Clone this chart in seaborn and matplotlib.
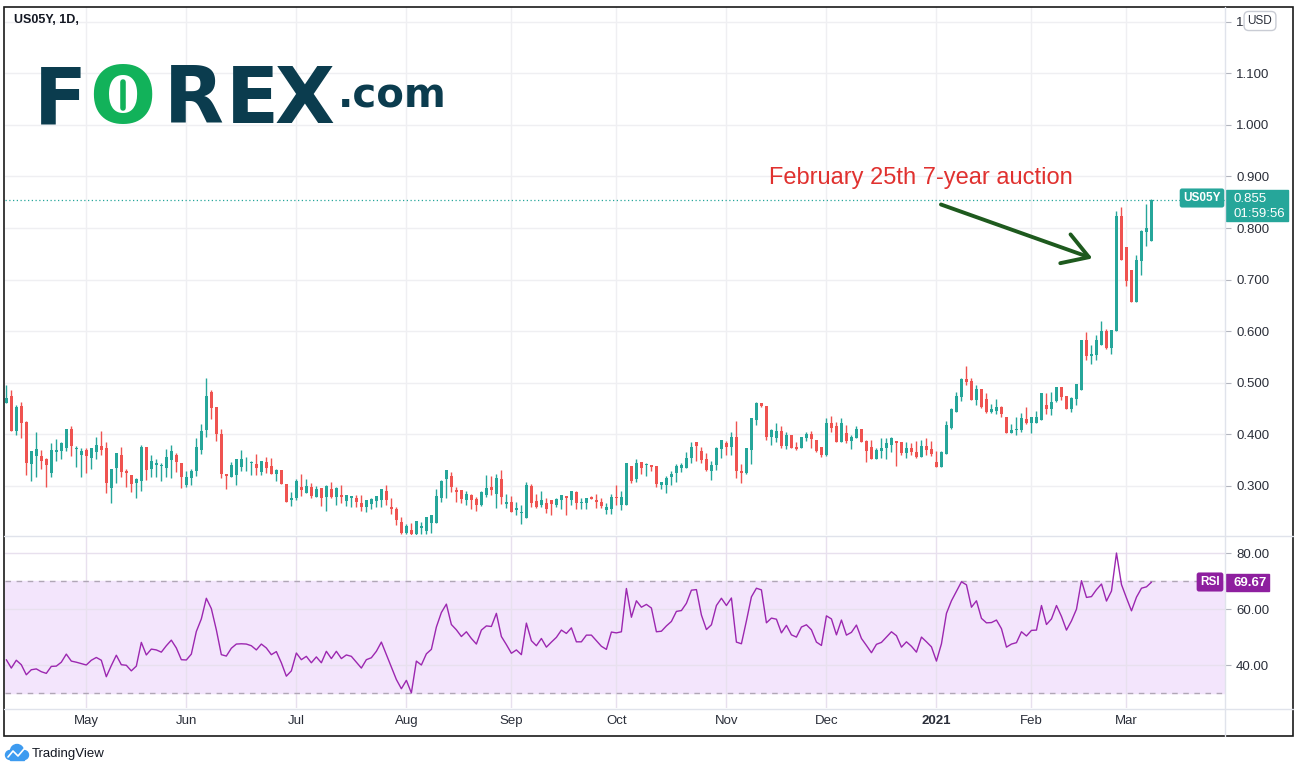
import matplotlib
matplotlib.use("Agg")
import matplotlib.pyplot as plt
import numpy as np
import pandas as pd
import seaborn as sns
from matplotlib.patches import Rectangle, Circle
from matplotlib.lines import Line2D
from matplotlib.transforms import Affine2D

sns.set_theme(style="white")
plt.rcParams["font.family"] = ["Liberation Sans", "DejaVu Sans"]

# -------------------------------------------------------
# Data: US05Y daily candles (Apr 2020 - Mar 8 2021) + RSI(14)
# -------------------------------------------------------

opens = [
    0.461, 0.474, 0.407, 0.454, 0.424, 0.342, 0.358, 0.357, 0.351, 0.325,
    0.366, 0.367, 0.373, 0.411, 0.371, 0.360, 0.369, 0.354, 0.366, 0.378,
    0.373, 0.296, 0.334, 0.359, 0.328, 0.320, 0.305, 0.309, 0.375, 0.332,
    0.340, 0.338, 0.334, 0.350, 0.359, 0.345, 0.301, 0.315, 0.328, 0.369,
    0.408, 0.481, 0.452, 0.400, 0.322, 0.317, 0.321, 0.336, 0.351, 0.344,
    0.342, 0.327, 0.347, 0.338, 0.323, 0.330, 0.303, 0.272, 0.277, 0.297,
    0.286, 0.297, 0.279, 0.295, 0.278, 0.293, 0.278, 0.283, 0.270, 0.276,
    0.276, 0.266, 0.259, 0.265, 0.270, 0.272, 0.289, 0.258, 0.254, 0.229,
    0.209, 0.215, 0.206, 0.219, 0.213, 0.227, 0.227, 0.276, 0.313, 0.318,
    0.291, 0.291, 0.272, 0.283, 0.274, 0.262, 0.283, 0.297, 0.285, 0.314,
    0.264, 0.268, 0.253, 0.247, 0.237, 0.299, 0.270, 0.262, 0.266, 0.272,
    0.262, 0.272, 0.281, 0.272, 0.287, 0.266, 0.266, 0.279, 0.272, 0.268,
    0.253, 0.255, 0.279, 0.263, 0.263, 0.338, 0.313, 0.347, 0.340, 0.341,
    0.338, 0.301, 0.301, 0.317, 0.325, 0.334, 0.334, 0.353, 0.384, 0.367,
    0.351, 0.329, 0.340, 0.371, 0.382, 0.376, 0.394, 0.328, 0.325, 0.369,
    0.427, 0.460, 0.455, 0.394, 0.392, 0.407, 0.378, 0.398, 0.376, 0.374,
    0.392, 0.400, 0.388, 0.376, 0.359, 0.421, 0.415, 0.384, 0.402, 0.386,
    0.392, 0.411, 0.386, 0.376, 0.351, 0.367, 0.373, 0.380, 0.386, 0.384,
    0.363, 0.374, 0.365, 0.355, 0.378, 0.371, 0.347, 0.336, 0.361, 0.413,
    0.443, 0.472, 0.507, 0.503, 0.466, 0.487, 0.468, 0.444, 0.446, 0.452,
    0.433, 0.403, 0.409, 0.409, 0.429, 0.422, 0.422, 0.428, 0.456, 0.448,
    0.464, 0.491, 0.475, 0.448, 0.468, 0.485, 0.582, 0.552, 0.553, 0.574,
    0.600, 0.567, 0.600, 0.823, 0.763, 0.718, 0.656, 0.736, 0.792, 0.775,
]

highs = [
    0.495, 0.485, 0.456, 0.462, 0.425, 0.367, 0.404, 0.369, 0.353, 0.382,
    0.390, 0.384, 0.411, 0.415, 0.378, 0.373, 0.373, 0.374, 0.394, 0.406,
    0.384, 0.333, 0.363, 0.375, 0.332, 0.320, 0.316, 0.380, 0.376, 0.359,
    0.351, 0.345, 0.371, 0.380, 0.363, 0.345, 0.328, 0.332, 0.392, 0.419,
    0.510, 0.485, 0.452, 0.411, 0.322, 0.347, 0.351, 0.369, 0.355, 0.348,
    0.361, 0.349, 0.355, 0.353, 0.332, 0.330, 0.304, 0.287, 0.314, 0.323,
    0.314, 0.305, 0.299, 0.295, 0.301, 0.307, 0.297, 0.301, 0.283, 0.281,
    0.283, 0.283, 0.272, 0.276, 0.281, 0.293, 0.301, 0.277, 0.258, 0.240,
    0.225, 0.227, 0.231, 0.229, 0.239, 0.244, 0.293, 0.312, 0.330, 0.326,
    0.297, 0.291, 0.289, 0.285, 0.279, 0.289, 0.320, 0.318, 0.322, 0.330,
    0.285, 0.281, 0.268, 0.262, 0.307, 0.303, 0.285, 0.289, 0.277, 0.272,
    0.277, 0.283, 0.281, 0.289, 0.289, 0.277, 0.277, 0.281, 0.285, 0.277,
    0.266, 0.285, 0.301, 0.289, 0.345, 0.338, 0.351, 0.347, 0.345, 0.341,
    0.338, 0.308, 0.318, 0.328, 0.343, 0.345, 0.365, 0.384, 0.384, 0.375,
    0.363, 0.349, 0.376, 0.388, 0.386, 0.404, 0.425, 0.343, 0.373, 0.431,
    0.462, 0.460, 0.455, 0.411, 0.421, 0.415, 0.404, 0.398, 0.384, 0.394,
    0.404, 0.407, 0.388, 0.376, 0.431, 0.435, 0.423, 0.431, 0.417, 0.398,
    0.415, 0.411, 0.388, 0.388, 0.373, 0.392, 0.392, 0.394, 0.386, 0.384,
    0.384, 0.382, 0.386, 0.388, 0.392, 0.386, 0.367, 0.367, 0.425, 0.450,
    0.481, 0.510, 0.532, 0.510, 0.495, 0.487, 0.479, 0.458, 0.468, 0.454,
    0.433, 0.419, 0.433, 0.442, 0.452, 0.433, 0.446, 0.479, 0.479, 0.481,
    0.491, 0.491, 0.475, 0.472, 0.497, 0.582, 0.598, 0.574, 0.592, 0.619,
    0.604, 0.602, 0.833, 0.841, 0.763, 0.718, 0.747, 0.796, 0.846, 0.857,
]

lows = [
    0.461, 0.407, 0.398, 0.392, 0.320, 0.309, 0.317, 0.332, 0.297, 0.317,
    0.349, 0.351, 0.367, 0.358, 0.336, 0.317, 0.325, 0.332, 0.352, 0.360,
    0.286, 0.266, 0.305, 0.317, 0.297, 0.288, 0.276, 0.290, 0.312, 0.317,
    0.317, 0.309, 0.317, 0.315, 0.327, 0.296, 0.297, 0.301, 0.318, 0.362,
    0.395, 0.429, 0.387, 0.315, 0.294, 0.317, 0.301, 0.329, 0.329, 0.321,
    0.321, 0.321, 0.325, 0.323, 0.309, 0.303, 0.268, 0.261, 0.272, 0.281,
    0.286, 0.276, 0.278, 0.260, 0.251, 0.276, 0.262, 0.266, 0.260, 0.259,
    0.259, 0.251, 0.249, 0.254, 0.259, 0.259, 0.262, 0.245, 0.224, 0.206,
    0.207, 0.204, 0.204, 0.206, 0.206, 0.208, 0.227, 0.268, 0.277, 0.287,
    0.268, 0.266, 0.262, 0.254, 0.251, 0.260, 0.278, 0.283, 0.256, 0.264,
    0.256, 0.250, 0.244, 0.225, 0.237, 0.259, 0.257, 0.259, 0.247, 0.244,
    0.259, 0.254, 0.244, 0.262, 0.254, 0.255, 0.254, 0.275, 0.256, 0.256,
    0.245, 0.245, 0.263, 0.253, 0.263, 0.305, 0.307, 0.323, 0.319, 0.329,
    0.297, 0.294, 0.286, 0.301, 0.307, 0.327, 0.334, 0.345, 0.348, 0.344,
    0.329, 0.311, 0.331, 0.354, 0.360, 0.360, 0.315, 0.305, 0.323, 0.342,
    0.417, 0.453, 0.388, 0.380, 0.384, 0.374, 0.371, 0.373, 0.369, 0.373,
    0.386, 0.374, 0.365, 0.355, 0.357, 0.404, 0.384, 0.384, 0.382, 0.371,
    0.392, 0.384, 0.347, 0.351, 0.351, 0.353, 0.351, 0.365, 0.338, 0.359,
    0.353, 0.359, 0.353, 0.355, 0.359, 0.357, 0.336, 0.336, 0.361, 0.411,
    0.443, 0.464, 0.496, 0.466, 0.456, 0.450, 0.442, 0.442, 0.440, 0.433,
    0.403, 0.403, 0.399, 0.405, 0.420, 0.403, 0.422, 0.428, 0.440, 0.437,
    0.462, 0.466, 0.448, 0.444, 0.456, 0.485, 0.543, 0.536, 0.543, 0.574,
    0.565, 0.556, 0.600, 0.738, 0.687, 0.656, 0.656, 0.708, 0.765, 0.775,
]

closes = [
    0.471, 0.407, 0.453, 0.422, 0.344, 0.367, 0.371, 0.349, 0.340, 0.369,
    0.369, 0.382, 0.411, 0.377, 0.373, 0.367, 0.358, 0.374, 0.380, 0.369,
    0.305, 0.333, 0.363, 0.327, 0.325, 0.303, 0.314, 0.375, 0.331, 0.349,
    0.345, 0.339, 0.355, 0.367, 0.347, 0.317, 0.317, 0.328, 0.375, 0.406,
    0.474, 0.451, 0.400, 0.323, 0.318, 0.340, 0.351, 0.351, 0.352, 0.347,
    0.334, 0.349, 0.334, 0.323, 0.330, 0.303, 0.268, 0.277, 0.309, 0.292,
    0.299, 0.281, 0.293, 0.277, 0.299, 0.279, 0.295, 0.278, 0.283, 0.281,
    0.268, 0.259, 0.272, 0.274, 0.281, 0.293, 0.272, 0.255, 0.233, 0.209,
    0.221, 0.206, 0.231, 0.221, 0.239, 0.244, 0.281, 0.310, 0.330, 0.297,
    0.287, 0.274, 0.285, 0.272, 0.262, 0.287, 0.295, 0.291, 0.316, 0.279,
    0.268, 0.250, 0.256, 0.248, 0.301, 0.266, 0.259, 0.272, 0.254, 0.265,
    0.274, 0.283, 0.277, 0.289, 0.266, 0.268, 0.277, 0.275, 0.268, 0.260,
    0.258, 0.279, 0.276, 0.279, 0.345, 0.309, 0.345, 0.334, 0.343, 0.336,
    0.303, 0.307, 0.316, 0.322, 0.338, 0.340, 0.353, 0.376, 0.377, 0.350,
    0.331, 0.340, 0.373, 0.388, 0.376, 0.394, 0.329, 0.325, 0.373, 0.431,
    0.460, 0.455, 0.394, 0.409, 0.407, 0.378, 0.398, 0.374, 0.371, 0.394,
    0.400, 0.390, 0.367, 0.359, 0.421, 0.413, 0.384, 0.421, 0.386, 0.394,
    0.411, 0.384, 0.367, 0.351, 0.369, 0.373, 0.382, 0.392, 0.382, 0.363,
    0.374, 0.365, 0.355, 0.378, 0.369, 0.361, 0.336, 0.365, 0.417, 0.449,
    0.475, 0.507, 0.501, 0.466, 0.487, 0.452, 0.444, 0.448, 0.452, 0.439,
    0.403, 0.409, 0.411, 0.431, 0.422, 0.433, 0.433, 0.479, 0.448, 0.462,
    0.491, 0.473, 0.448, 0.470, 0.497, 0.582, 0.551, 0.555, 0.582, 0.600,
    0.567, 0.602, 0.823, 0.738, 0.697, 0.656, 0.738, 0.794, 0.800, 0.855,
]

rsi_values = [
    41.9, 38.9, 41.7, 40.1, 36.5, 38.3, 38.6, 37.6, 37.0, 39.5,
    39.6, 41.0, 43.9, 41.4, 41.0, 40.5, 40.0, 41.7, 42.7, 41.7,
    35.8, 39.8, 43.5, 40.1, 39.9, 37.9, 39.6, 48.1, 43.6, 45.7,
    45.4, 44.6, 46.9, 48.9, 46.1, 41.9, 41.8, 43.9, 52.0, 56.5,
    63.9, 60.2, 52.6, 43.7, 43.2, 46.0, 47.5, 47.6, 47.5, 46.9,
    45.4, 47.5, 46.1, 43.7, 44.8, 40.8, 36.0, 37.9, 44.3, 41.9,
    43.1, 40.8, 42.9, 40.8, 44.9, 42.3, 44.9, 42.3, 43.6, 43.1,
    41.0, 38.9, 41.9, 42.6, 44.9, 48.2, 43.7, 39.2, 34.8, 31.5,
    34.5, 30.0, 41.4, 40.0, 44.0, 45.6, 53.6, 58.8, 61.8, 54.5,
    52.6, 50.2, 51.9, 49.5, 47.5, 52.5, 54.0, 53.8, 58.5, 50.2,
    47.3, 44.2, 45.4, 43.7, 55.0, 48.7, 46.9, 49.5, 46.4, 48.2,
    49.9, 52.5, 51.3, 53.3, 48.3, 48.3, 50.7, 50.7, 48.7, 46.7,
    45.6, 51.8, 51.5, 51.9, 67.4, 57.1, 63.0, 60.7, 61.7, 60.4,
    51.9, 52.1, 54.0, 55.6, 59.2, 59.5, 62.1, 66.8, 67.0, 57.9,
    52.7, 54.4, 61.3, 63.9, 61.3, 64.0, 48.2, 47.6, 55.8, 64.4,
    67.5, 66.9, 55.1, 56.8, 56.4, 51.5, 54.2, 50.8, 50.0, 53.6,
    54.4, 52.6, 48.2, 47.0, 57.6, 56.5, 50.8, 56.1, 50.7, 51.7,
    54.3, 49.5, 47.0, 44.4, 47.4, 48.1, 50.0, 51.9, 50.5, 46.4,
    48.3, 46.7, 44.6, 50.0, 48.3, 46.5, 41.4, 47.6, 58.5, 63.0,
    66.4, 69.8, 68.7, 60.7, 63.0, 56.7, 55.1, 55.2, 56.1, 53.0,
    46.4, 47.5, 48.0, 51.9, 50.4, 52.4, 52.5, 61.3, 54.5, 56.5,
    61.3, 57.4, 52.5, 55.8, 60.0, 70.2, 64.2, 64.5, 67.0, 69.0,
    62.9, 66.5, 80.1, 68.8, 64.0, 59.4, 64.3, 67.5, 68.0, 69.67,
]

month_labels = ["May", "Jun", "Jul", "Aug", "Sep", "Oct", "Nov", "Dec",
                "2021", "Feb", "Mar"]
month_bars = [16, 36, 58, 80, 101, 122, 144, 164, 186, 205, 224]
price_ticks = [0.3, 0.4, 0.5, 0.6, 0.7, 0.8, 0.9, 1.0, 1.1, 1.2]
# the top label is cut off by the currency box in the original
price_labels = ["0.300", "0.400", "0.500", "0.600", "0.700", "0.800",
                "0.900", "1.000", "1.100", "1."]
rsi_ticks = [40, 60, 80]
last_price = 0.855
last_rsi = 69.67
auction_bar = 222

GREEN = "#26a69a"
RED = "#ef5350"
PURPLE = "#9c27b0"
GRID = "#efeff2"
TEXT = "#2a2e39"
W, H = 1300, 773

fig = plt.figure(figsize=(13, 7.73), dpi=100)
fig.patch.set_facecolor("white")
# pixel coordinates, origin at top-left
pix = Affine2D().scale(1 / W, -1 / H).translate(0, 1) + fig.transFigure


def box(x0, y0, x1, y1):
    return [x0 / W, 1 - y1 / H, (x1 - x0) / W, (y1 - y0) / H]


ax = fig.add_axes(box(5, 7, 1225, 535))
ax2 = fig.add_axes(box(5, 536, 1225, 708), sharex=ax)

# =======================================================
# Candles
# =======================================================

o = np.array(opens)
h = np.array(highs)
l = np.array(lows)
c = np.array(closes)
x = np.arange(len(c))
colors = np.where(c >= o, GREEN, RED)

ax.vlines(x, l, h, colors=colors, linewidth=1.0, zorder=3)
ax.bar(x, np.maximum(np.abs(c - o), 0.0014), bottom=np.minimum(o, c),
       width=0.64, color=colors, linewidth=0, zorder=4)

ax.axhline(last_price, color=GREEN, linestyle=(0, (1, 2)), linewidth=0.9,
           zorder=2)

ax.set_xlim(-0.26, 243.7)
ax.set_ylim(0.2045, 1.2287)
ax.set_yticks(price_ticks)
ax.set_yticklabels(price_labels)
ax.set_xticks(month_bars)
ax.yaxis.tick_right()
ax.tick_params(axis="y", length=4, width=0.8, color="#b2b5be", pad=4,
               labelsize=9.5, labelcolor=TEXT)
ax.tick_params(axis="x", length=0, labelbottom=False)
ax.grid(True, color=GRID, linewidth=1)
ax.set_axisbelow(True)
for s in ax.spines.values():
    s.set_visible(False)

# annotation
ax.text(182.9, 0.8967, "February 25th 7-year auction", color="#e0312f",
        fontsize=17, ha="center", va="center",
        family=["Liberation Sans", "DejaVu Sans"])
ax.annotate("", xy=(auction_bar - 4.8, 0.741), xytext=(186.9, 0.8456),
            arrowprops=dict(arrowstyle="->,head_length=0.9,head_width=0.55",
                            color="#1e5a1e", lw=2.8, mutation_scale=20,
                            shrinkA=0, shrinkB=0))

# =======================================================
# RSI
# =======================================================

rsi_df = pd.DataFrame({"bar": x, "rsi": rsi_values})
ax2.axhspan(30, 70, color="#f3e5fc", zorder=0)
sns.lineplot(data=rsi_df, x="bar", y="rsi", ax=ax2, color=PURPLE,
             linewidth=1.0, zorder=4)
for lvl in (70, 30):
    ax2.axhline(lvl, color="#b0a6b6", linestyle=(0, (4, 4)), linewidth=1,
                zorder=3)

ax2.set_ylim(24.6, 86.2)
ax2.set_yticks(rsi_ticks)
ax2.set_yticklabels([f"{v:.2f}" for v in rsi_ticks])
ax2.yaxis.tick_right()
ax2.tick_params(axis="y", length=4, width=0.8, color="#b2b5be", pad=4,
                labelsize=9.5, labelcolor=TEXT)
ax2.set_xticks(month_bars)
ax2.set_xticklabels(month_labels)
ax2.tick_params(axis="x", length=0, pad=5, labelsize=9.5, labelcolor=TEXT)
for lab in ax2.get_xticklabels():
    if lab.get_text() == "2021":
        lab.set_fontweight("bold")
ax2.set_xlabel("")
ax2.set_ylabel("")
ax2.grid(True, color="#e8e0ee", linewidth=1)
ax2.set_axisbelow(True)
ax2.set_facecolor("none")
for s in ax2.spines.values():
    s.set_visible(False)

# =======================================================
# Frame, separators, tags, logos
# =======================================================

fig.add_artist(Rectangle((4, 7), 1289, 729, transform=pix, fill=False,
                         edgecolor="#1a1a1a", linewidth=1.2))
for (xs, ys) in [((1225, 1225), (7, 736)), ((4, 1293), (535.5, 535.5)),
                 ((4, 1293), (708.5, 708.5))]:
    fig.add_artist(Line2D(xs, ys, transform=pix, color="#e0e3eb",
                          linewidth=1))

# US05Y tags
fig.text(1202, 198, "US05Y", transform=pix, color="white", fontsize=8.5,
         fontweight="bold", ha="center", va="center",
         bbox=dict(boxstyle="round,pad=0.3,rounding_size=0.2", fc=GREEN,
                   ec="none"))
fig.add_artist(Rectangle((1226, 190), 62, 31, transform=pix, color=GREEN))
fig.text(1233, 199, f"{last_price:.3f}", transform=pix, color="white",
         fontsize=9.5, ha="left", va="center")
fig.text(1233, 214, "01:59:56", transform=pix, color="white",
         fontsize=9.5, ha="left", va="center")

# RSI tags
fig.text(1210, 582, "RSI", transform=pix, color="white", fontsize=8.5,
         fontweight="bold", ha="center", va="center",
         bbox=dict(boxstyle="round,pad=0.3,rounding_size=0.2", fc="#8e1f9f",
                   ec="none"))
fig.add_artist(Rectangle((1226, 574), 43, 17, transform=pix, color="#8e1f9f"))
fig.text(1233, 582.5, f"{last_rsi:.2f}", transform=pix, color="white",
         fontsize=9.5, fontweight="bold", ha="left", va="center")

# USD box
fig.text(1260, 21, "USD", transform=pix, color=TEXT, fontsize=8.5,
         ha="center", va="center",
         bbox=dict(boxstyle="round,pad=0.3,rounding_size=0.4", fc="white",
                   ec="#c9ccd4", lw=1))

# header
fig.text(14, 20, "US05Y, 1D,", transform=pix, color="#131722", fontsize=9,
         fontweight="bold", ha="left", va="center")

# FOREX.com logo
NAVY = "#0b3c4e"
LOGO_GREEN = "#12b25a"
for letter, cx, col in [("F", 60, NAVY), ("O", 122, LOGO_GREEN),
                        ("R", 194, NAVY), ("E", 252, NAVY), ("X", 305, NAVY)]:
    fig.text(cx, 123, letter, transform=pix, color=col, fontsize=56,
             fontweight="bold", ha="center", va="baseline",
             family=["DejaVu Sans"])
fig.add_artist(Line2D((123, 123), (82, 108), transform=pix,
                      color=LOGO_GREEN, linewidth=4))
for yy in (90, 98):
    fig.add_artist(Line2D((128, 162), (yy, yy), transform=pix, color="white",
                          linewidth=2.5))
fig.text(338, 108, ".com", transform=pix, color=NAVY, fontsize=29,
         fontweight="bold", ha="left", va="baseline",
         family=["DejaVu Sans"])

# TradingView footer
for (cx, cy, r) in [(17, 751, 6.5), (10, 755, 4.5), (24, 755, 4.5)]:
    fig.add_artist(Circle((cx, cy), r, transform=pix, color="#3d9bf0"))
fig.add_artist(Rectangle((10, 753), 14, 6.5, transform=pix, color="#3d9bf0"))
fig.add_artist(Line2D((8, 13, 18, 24), (757, 751, 756, 749), transform=pix,
                      color="white", linewidth=1.2))
fig.text(32, 754, "TradingView", transform=pix, color="#131722",
         fontsize=9.5, ha="left", va="center")

fig.savefig("out.png", dpi=100)
